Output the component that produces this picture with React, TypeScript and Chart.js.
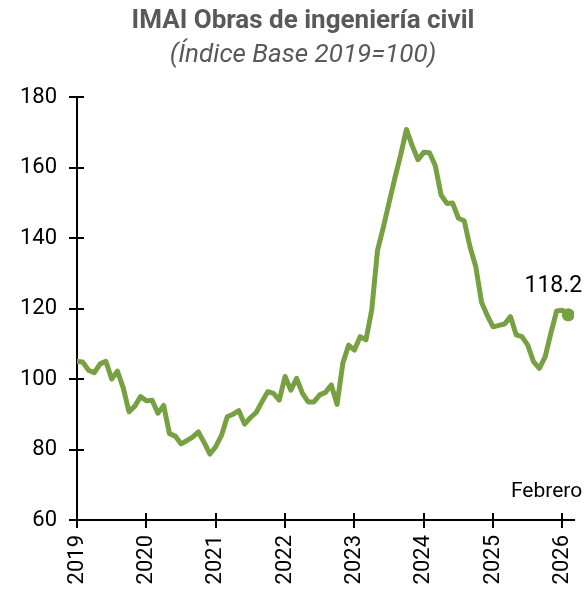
import React, { useEffect, useRef } from 'react';
import { Chart, registerables } from 'chart.js';

Chart.register(...registerables);

const titleText = 'IMAI Obras de ingeniería civil';
const subtitleText = '(Índice Base 2019=100)';
const yearLabels = ['2019', '2020', '2021', '2022', '2023', '2024', '2025', '2026'];
const yTickValues = [60, 80, 100, 120, 140, 160, 180];
const lastValueLabel = '118.2';
const lastMonthLabel = 'Febrero';

// Monthly index values, Jan 2019 .. Feb 2026
const imaiValues = [
  105.0, 104.8, 102.5, 101.8, 104.3, 105.0, 100.0, 102.2, 97.5, 90.7, 92.3, 95.0,
  93.8, 94.0, 90.3, 92.5, 84.5, 83.8, 81.6, 82.5, 83.5, 85.0, 82.0, 78.7,
  80.8, 84.0, 89.3, 90.0, 91.0, 87.2, 89.0, 90.5, 93.5, 96.4, 95.9, 94.0,
  100.7, 96.8, 100.2, 96.0, 93.5, 93.5, 95.5, 96.2, 98.3, 92.8, 104.5, 109.6,
  108.2, 112.0, 111.1, 119.6, 136.5, 143.0, 150.0, 157.0, 163.5, 170.8, 166.2, 162.2,
  164.3, 164.2, 160.5, 152.2, 149.8, 149.9, 145.6, 144.9, 137.5, 131.9, 121.8, 118.0,
  114.8, 115.2, 115.6, 117.7, 112.5, 112.0, 109.6, 104.9, 103.0, 106.3, 113.0, 119.3,
  119.5, 118.2,
];

const LINE_COLOR = '#77A043';
const FONT = 'Roboto';

export default function App() {
  const canvasRef = useRef<HTMLCanvasElement | null>(null);

  useEffect(() => {
    if (!canvasRef.current) return;
    const lastIndex = imaiValues.length - 1;

    const overlay = {
      id: 'overlay',
      afterDraw(chart: any) {
        const ctx = chart.ctx;
        const xs = chart.scales.x;
        const ys = chart.scales.y;
        const { left, bottom } = chart.chartArea;
        ctx.save();
        // inner half of crossing tick marks
        ctx.strokeStyle = '#000';
        ctx.lineWidth = 2;
        ctx.beginPath();
        xs.ticks.forEach((t: any) => {
          const px = Math.round(xs.getPixelForValue(t.value));
          ctx.moveTo(px, bottom);
          ctx.lineTo(px, bottom - 7);
        });
        ys.ticks.forEach((t: any) => {
          const py = Math.round(ys.getPixelForValue(t.value));
          ctx.moveTo(left, py);
          ctx.lineTo(left + 7, py);
        });
        ctx.stroke();

        // titles
        ctx.fillStyle = '#595959';
        ctx.textAlign = 'center';
        ctx.textBaseline = 'middle';
        ctx.font = `bold 26px ${FONT}`;
        ctx.fillText(titleText, 303, 21);
        ctx.font = `italic 26px ${FONT}`;
        ctx.fillText(subtitleText, 303, 55);

        // annotations
        ctx.fillStyle = '#000';
        ctx.textAlign = 'right';
        ctx.font = `23px ${FONT}`;
        const lx = xs.getPixelForValue(lastIndex);
        const ly = ys.getPixelForValue(imaiValues[lastIndex]);
        ctx.fillText(lastValueLabel, lx + 14, ly - 29);
        ctx.font = `21px ${FONT}`;
        ctx.fillText(lastMonthLabel, lx + 14, bottom - 28);
        ctx.restore();
      },
    };

    const chart = new Chart(canvasRef.current, {
      type: 'line',
      data: {
        datasets: [
          {
            data: imaiValues.map((v, i) => ({ x: i, y: v })),
            borderColor: LINE_COLOR,
            backgroundColor: LINE_COLOR,
            borderWidth: 5,
            tension: 0,
            borderJoinStyle: 'round',
            borderCapStyle: 'round',
            pointRadius: (c: any) => (c.dataIndex === lastIndex ? 6.5 : 0),
            pointHoverRadius: 0,
            pointBorderWidth: 0,
            pointBackgroundColor: LINE_COLOR,
            pointBorderColor: LINE_COLOR,
          },
        ],
      },
      options: {
        animation: false,
        responsive: true,
        maintainAspectRatio: false,
        layout: { padding: { top: 97, right: 14, left: 0, bottom: 0 } },
        plugins: {
          legend: { display: false },
          tooltip: { enabled: false },
          title: { display: false },
        },
        scales: {
          x: {
            type: 'linear',
            min: 0,
            max: 86,
            afterBuildTicks: (s: any) => {
              s.ticks = yearLabels.map((_, k) => ({ value: k * 12 }));
            },
            afterFit: (s: any) => {
              s.height = 73;
              s.paddingLeft = 0;
              s.paddingRight = 0;
            },
            ticks: {
              autoSkip: false,
              maxRotation: 90,
              minRotation: 90,
              padding: 7,
              color: '#000',
              font: { family: FONT, size: 22 },
              callback: (v: any) => yearLabels[Math.round(Number(v) / 12)] ?? '',
            },
            grid: { drawOnChartArea: false, tickLength: 8, color: '#000', lineWidth: 2 },
            border: { color: '#000', width: 2 },
          },
          y: {
            min: 60,
            max: 180,
            afterBuildTicks: (s: any) => {
              s.ticks = yTickValues.map((v) => ({ value: v }));
            },
            afterFit: (s: any) => {
              s.width = 77;
            },
            ticks: {
              padding: 12,
              color: '#000',
              font: { family: FONT, size: 22 },
            },
            grid: { drawOnChartArea: false, tickLength: 8, color: '#000', lineWidth: 2 },
            border: { color: '#000', width: 2 },
          },
        },
      },
      plugins: [overlay],
    } as any);

    return () => chart.destroy();
  }, []);

  return (
    <div style={{ position: 'fixed', left: 0, top: 0, width: 588, height: 593, background: '#fff' }}>
      <canvas ref={canvasRef} />
    </div>
  );
}
